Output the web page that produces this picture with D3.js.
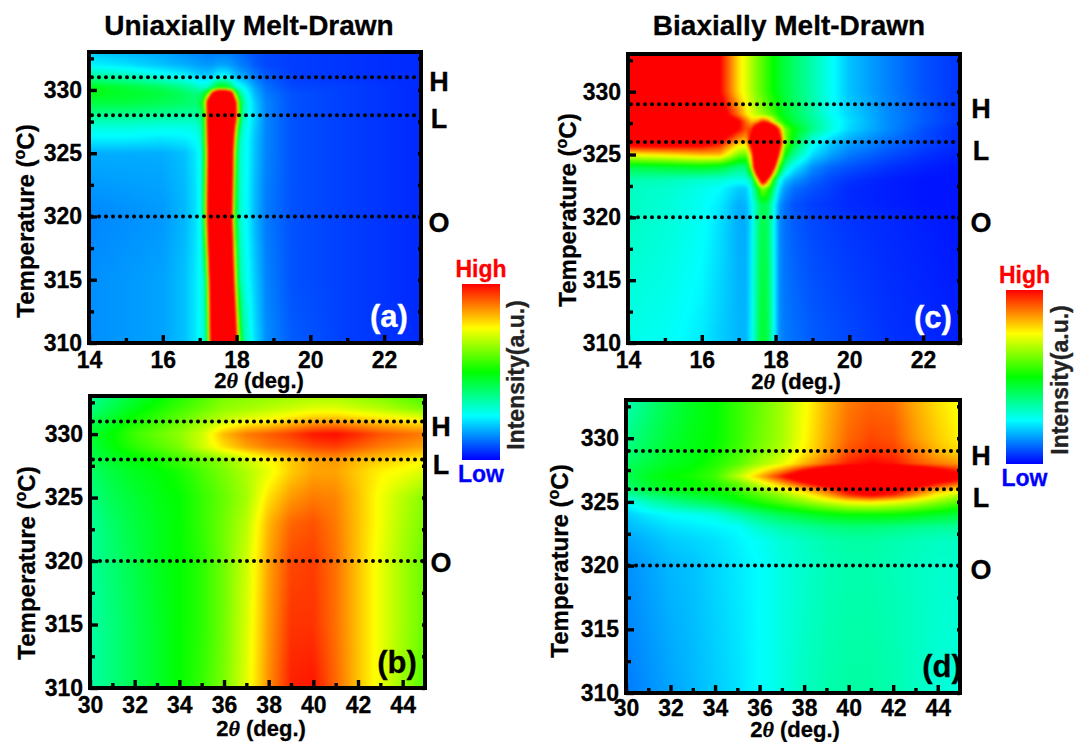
<!DOCTYPE html>
<html lang="en">

<head>
  <meta charset="UTF-8">
  <title>Uniaxially and biaxially melt-drawn intensity maps</title>
  <script src="https://d3js.org/d3.v7.min.js"></script>
  <style>
    body {
      margin: 0;
      background: #fff;
    }

    svg {
      display: block;
    }

    text {
      font-family: "Liberation Sans", Arial, sans-serif;
      font-weight: bold;
      fill: #000;
    }
  </style>
</head>

<body>
  <svg width="1074" height="742"></svg>

  <script>
    // intensity: 0 blue, 25 cyan, 50 green, 75 yellow, 100 red (over 100 = saturated)
    const thetaA = [14, 15, 16, 16.6, 16.9, 17.05, 17.15, 17.25, 17.35, 17.5, 17.7, 17.85, 17.95, 18.05, 18.15, 18.3, 18.5, 18.8, 19.5, 21, 23];
    const tempA = [310, 315, 320, 325, 326, 327, 328, 329, 329.7, 330.2, 331, 332, 333];
    const intensityA = [
      [14, 15, 16, 19, 23, 27, 30, 70, 130, 170, 170, 160, 125, 75, 40, 30, 22, 14, 9, 6, 4],
      [14, 15, 16, 19, 23, 27, 35, 85, 140, 170, 170, 140, 85, 42, 30, 26, 20, 13, 8, 6, 4],
      [13, 14, 15, 18, 22, 28, 65, 120, 160, 170, 170, 110, 55, 33, 28, 24, 18, 12, 8, 6, 4],
      [17, 17, 17, 19, 23, 28, 55, 110, 150, 170, 170, 130, 70, 35, 28, 25, 19, 13, 8, 6, 4],
      [23, 23, 22, 23, 25, 30, 60, 115, 160, 170, 170, 135, 80, 38, 28, 25, 19, 13, 8, 6, 4],
      [28, 28, 27, 27, 28, 33, 62, 120, 160, 170, 170, 145, 95, 50, 30, 26, 20, 13, 8, 6, 4],
      [36, 36, 35, 34, 34, 38, 62, 125, 165, 170, 170, 165, 120, 70, 36, 27, 21, 13, 8, 6, 4],
      [44, 44, 42, 40, 39, 45, 70, 130, 170, 170, 170, 165, 115, 65, 38, 28, 20, 13, 8, 6, 4],
      [48, 46, 44, 41, 38, 40, 48, 65, 110, 150, 150, 125, 70, 42, 32, 25, 18, 12, 8, 6, 4],
      [48, 45, 41, 36, 32, 30, 30, 32, 40, 50, 50, 42, 32, 28, 26, 22, 16, 11, 7, 6, 4],
      [36, 33, 28, 25, 22, 21, 21, 21, 22, 26, 26, 23, 20, 18, 17, 15, 12, 9, 6, 5, 4],
      [24, 22, 19, 17, 16, 15, 15, 15, 15, 16, 16, 15, 14, 13, 12, 11, 9, 7, 6, 5, 4],
      [20, 18, 16, 14, 13, 13, 12, 12, 12, 12, 12, 12, 11, 11, 10, 9, 8, 7, 6, 5, 4]
    ];

    const thetaB = [30, 31, 32, 33, 34, 35, 36, 37, 38, 39, 40, 41, 42, 43, 44, 45];
    const tempB = [310, 315, 320, 323, 325, 327, 328, 329, 330, 331, 332, 333];
    const intensityB = [
      [34, 38, 42, 46, 50, 55, 62, 72, 86, 97, 98, 90, 81, 73, 65, 58],
      [34, 38, 42, 46, 50, 54, 61, 71, 85, 95, 95, 89, 81, 73, 66, 60],
      [35, 39, 43, 47, 50, 54, 61, 70, 84, 93, 94, 89, 81, 73, 66, 60],
      [35, 40, 44, 47, 50, 55, 61, 68, 82, 90, 92, 88, 81, 74, 67, 62],
      [37, 42, 45, 48, 50, 55, 60, 66, 78, 85, 88, 87, 81, 74, 68, 63],
      [40, 44, 47, 49, 52, 57, 62, 67, 73, 80, 84, 84, 80, 76, 74, 71],
      [42, 46, 49, 52, 56, 60, 64, 70, 75, 80, 84, 85, 82, 80, 78, 76],
      [44, 49, 54, 58, 62, 70, 78, 84, 88, 90, 93, 94, 91, 88, 86, 84],
      [45, 50, 56, 60, 64, 70, 82, 88, 91, 94, 98, 99, 96, 92, 90, 88],
      [42, 47, 52, 56, 60, 65, 70, 74, 76, 80, 83, 84, 82, 80, 78, 76],
      [38, 43, 48, 52, 56, 60, 64, 66, 68, 70, 72, 72, 70, 68, 65, 62],
      [35, 40, 45, 49, 53, 57, 62, 63, 64, 65, 66, 66, 64, 62, 59, 56]
    ];

    const thetaC = [14, 15, 16, 16.5, 17, 17.2, 17.35, 17.5, 17.65, 17.8, 17.95, 18.1, 18.25, 18.5, 19, 19.5, 20, 21, 22, 23];
    const tempC = [310, 320, 321, 322.3, 323, 324, 325, 326, 327, 327.6, 328.2, 330, 333];
    const intensityC = [
      [27, 26, 23, 20, 18, 18, 24, 38, 46, 42, 26, 14, 12, 11, 9, 8, 7, 5, 4, 3],
      [31, 29, 26, 22, 17, 17, 23, 36, 43, 40, 26, 14, 11, 9, 7, 6, 5, 4, 3, 2],
      [31, 29, 26, 23, 17, 18, 24, 35, 43, 40, 27, 15, 11, 8, 6, 5, 4, 3, 2, 2],
      [31, 30, 27, 25, 20, 20, 28, 45, 65, 55, 38, 22, 15, 11, 8, 6, 4, 3, 2, 2],
      [33, 32, 30, 29, 27, 28, 34, 75, 125, 90, 50, 28, 20, 15, 10, 7, 5, 3, 2, 2],
      [43, 45, 47, 45, 38, 38, 70, 140, 170, 170, 105, 55, 34, 24, 14, 10, 8, 5, 3, 2],
      [75, 78, 82, 82, 62, 60, 85, 150, 170, 170, 150, 90, 50, 36, 22, 16, 12, 8, 5, 3],
      [112, 112, 108, 100, 82, 80, 110, 150, 170, 170, 170, 118, 65, 45, 27, 20, 16, 11, 7, 4],
      [125, 125, 122, 115, 100, 92, 95, 125, 165, 165, 130, 92, 62, 50, 37, 28, 21, 14, 8, 4],
      [130, 130, 128, 120, 102, 90, 82, 85, 98, 92, 72, 58, 50, 44, 36, 28, 22, 14, 9, 5],
      [130, 130, 125, 108, 88, 78, 72, 68, 64, 60, 56, 50, 46, 42, 34, 26, 21, 14, 9, 5],
      [130, 130, 120, 100, 78, 72, 67, 62, 58, 54, 50, 47, 44, 40, 33, 26, 19, 13, 8, 5],
      [130, 130, 120, 100, 78, 72, 67, 62, 58, 54, 50, 47, 44, 40, 33, 26, 19, 13, 8, 5]
    ];

    const thetaD = [30, 31, 32, 33, 34, 35, 36, 37, 38, 39, 40, 41, 42, 43, 44, 45];
    const tempD = [310, 320, 322, 323, 324, 325, 325.5, 326, 326.5, 327, 328, 329, 330, 333];
    const intensityD = [
      [12, 14, 16, 18, 20, 22, 25, 28, 31, 33, 34, 34, 33, 31, 29, 28],
      [14, 16, 18, 19, 21, 23, 25, 28, 30, 32, 33, 33, 32, 31, 30, 30],
      [16, 18, 20, 21, 22, 24, 26, 29, 31, 33, 34, 34, 33, 32, 31, 31],
      [18, 20, 22, 23, 24, 25, 30, 33, 35, 37, 38, 38, 37, 36, 35, 35],
      [20, 23, 25, 26, 28, 33, 38, 42, 45, 48, 50, 50, 50, 48, 46, 44],
      [25, 32, 36, 40, 43, 48, 53, 58, 64, 70, 75, 77, 74, 70, 64, 58],
      [33, 38, 42, 45, 47, 52, 58, 64, 72, 82, 94, 100, 95, 85, 74, 67],
      [38, 44, 48, 50, 52, 56, 64, 72, 82, 92, 105, 110, 105, 95, 85, 78],
      [40, 46, 48, 50, 54, 60, 72, 85, 98, 112, 125, 130, 125, 112, 100, 92],
      [42, 47, 50, 52, 56, 68, 82, 98, 115, 130, 145, 150, 145, 130, 118, 105],
      [40, 44, 47, 49, 53, 58, 66, 72, 82, 90, 97, 100, 98, 92, 88, 85],
      [38, 42, 46, 48, 51, 56, 62, 68, 76, 84, 92, 95, 94, 88, 82, 78],
      [36, 41, 45, 48, 50, 55, 61, 66, 75, 83, 90, 93, 92, 85, 80, 76],
      [32, 38, 43, 47, 50, 55, 60, 66, 74, 82, 88, 90, 89, 83, 78, 74]
    ];

    const tempTicks = [310, 315, 320, 325, 330];
    const tempMinorTicks = [312.5, 317.5, 322.5, 327.5, 332.5];
    const thetaTicksLow = [14, 16, 18, 20, 22];
    const thetaMinorLow = [15, 17, 19, 21, 23];
    const thetaTicksHigh = [30, 32, 34, 36, 38, 40, 42, 44];
    const thetaMinorHigh = [31, 33, 35, 37, 39, 41, 43];
    const phaseUni = [["H", 331], ["L", 328], ["O", 320]];
    const phaseBi = [["H", 329], ["L", 326], ["O", 320]];

    const colour = d3.scaleLinear()
      .domain([0, 25, 50, 75, 100])
      .range(["#0000ff", "#00ffff", "#00ff00", "#ffff00", "#ff0000"])
      .clamp(true);

    const svg = d3.select("svg");

    const panels = [
      {
        name: "(a)", nameFill: "#fff", nameAt: [389, 327], theta: thetaA, temp: tempA, values: intensityA,
        domain: [14, 23], ticks: thetaTicksLow, minor: thetaMinorLow, phases: phaseUni, tickPad: 9,
        xr: [89, 421], yr: [343, 52], phaseX: 439, phaseY: [81, 118, 222], labelX: 34, labelY: 221, xLabel: [259, 388]
      },
      {
        name: "(b)", nameFill: "#000", nameAt: [397, 673], theta: thetaB, temp: tempB, values: intensityB,
        domain: [30, 45], ticks: thetaTicksHigh, minor: thetaMinorHigh, phases: phaseUni, tickPad: 9,
        xr: [90, 425], yr: [688, 396], phaseX: 441, phaseY: [426, 464, 562], labelX: 35, labelY: 563, xLabel: [261, 736]
      },
      {
        name: "(c)", nameFill: "#fff", nameAt: [933, 328], theta: thetaC, temp: tempC, values: intensityC,
        domain: [14, 23], ticks: thetaTicksLow, minor: thetaMinorLow, phases: phaseBi, tickPad: 9,
        xr: [628, 960], yr: [343, 54], phaseX: 981, phaseY: [108, 150, 222], labelX: 576, labelY: 210, xLabel: [796, 389]
      },
      {
        name: "(d)", nameFill: "#000", nameAt: [942, 677], theta: thetaD, temp: tempD, values: intensityD,
        domain: [30, 45], ticks: thetaTicksHigh, minor: thetaMinorHigh, phases: phaseBi, tickPad: 7,
        xr: [626, 960], yr: [693, 400], phaseX: 981, phaseY: [455, 497, 569], labelX: 568, labelY: 561, xLabel: [795, 737]
      }
    ];

    panels.forEach(drawPanel);

    svg.append("text").attr("x", 249).attr("y", 35).attr("text-anchor", "middle")
      .style("font-size", "28px").text("Uniaxially Melt-Drawn");
    svg.append("text").attr("x", 789).attr("y", 35).attr("text-anchor", "middle")
      .style("font-size", "28px").text("Biaxially Melt-Drawn");

    drawLegend("legendOne", 462, 500, 284, 460, 517);
    drawLegend("legendTwo", 1006, 1043, 290, 464, 1061);

    // the reference text is heavier than plain bold
    svg.selectAll("text")
      .style("stroke", function () { return this.style.fill || "#000"; })
      .style("stroke-width", 0.3);

    // paints the grid into a canvas, a little blurred, and puts it behind the frame
    function heatmapImage(p, x, y) {
      const pad = 1;
      const w = Math.round(x.range()[1] - x.range()[0]) + pad * 2;
      const h = Math.round(y.range()[0] - y.range()[1]) + pad * 2;
      const col = d3.scaleLinear().domain(p.theta).range(d3.range(p.theta.length)).clamp(true);
      const row = d3.scaleLinear().domain(p.temp).range(d3.range(p.temp.length)).clamp(true);

      const raw = document.createElement("canvas");
      raw.width = w;
      raw.height = h;
      const ctx = raw.getContext("2d");
      const img = ctx.createImageData(w, h);
      for (let j = 0; j < h; j++) {
        const fy = row(y.invert(y.range()[1] - pad + j + 0.5));
        const j0 = Math.min(Math.floor(fy), p.temp.length - 2);
        const ty = fy - j0;
        for (let i = 0; i < w; i++) {
          const fx = col(x.invert(x.range()[0] - pad + i + 0.5));
          const i0 = Math.min(Math.floor(fx), p.theta.length - 2);
          const tx = fx - i0;
          const v = (1 - ty) * ((1 - tx) * p.values[j0][i0] + tx * p.values[j0][i0 + 1]) +
            ty * ((1 - tx) * p.values[j0 + 1][i0] + tx * p.values[j0 + 1][i0 + 1]);
          const c = d3.rgb(colour(v));
          const k = (j * w + i) * 4;
          img.data[k] = c.r;
          img.data[k + 1] = c.g;
          img.data[k + 2] = c.b;
          img.data[k + 3] = 255;
        }
      }
      ctx.putImageData(img, 0, 0);

      const soft = document.createElement("canvas");
      soft.width = w;
      soft.height = h;
      const sctx = soft.getContext("2d");
      sctx.drawImage(raw, 0, 0);
      sctx.filter = "blur(1px)";
      sctx.drawImage(raw, 0, 0);

      svg.append("image")
        .attr("x", x.range()[0] - pad)
        .attr("y", y.range()[1] - pad)
        .attr("width", w)
        .attr("height", h)
        .attr("href", soft.toDataURL());
    }

    function drawPanel(p) {
      const x = d3.scaleLinear().domain(p.domain).range(p.xr);
      const y = d3.scaleLinear().domain([310, 333]).range(p.yr);

      heatmapImage(p, x, y);

      // dotted phase lines
      svg.append("g").selectAll("line")
        .data(p.phases)
        .join("line")
        .attr("x1", p.xr[0] + 3)
        .attr("x2", p.xr[1] - 1)
        .attr("y1", d => y(d[1]))
        .attr("y2", d => y(d[1]))
        .attr("stroke", "#000")
        .attr("stroke-width", 4)
        .attr("stroke-linecap", "round")
        .attr("stroke-dasharray", "0 7");

      svg.append("g").selectAll("text")
        .data(p.phases)
        .join("text")
        .attr("x", p.phaseX)
        .attr("y", (d, i) => p.phaseY[i] + 10)
        .attr("text-anchor", "middle")
        .style("font-size", "27px")
        .text(d => d[0]);

      // ticks point inwards
      svg.append("g").attr("transform", `translate(0,${p.yr[0]})`)
        .call(d3.axisBottom(x).tickValues(p.ticks).tickSizeInner(-8).tickSizeOuter(0).tickPadding(p.tickPad).tickFormat(d3.format("d")));
      svg.append("g").attr("transform", `translate(0,${p.yr[0]})`)
        .call(d3.axisBottom(x).tickValues(p.minor).tickSizeInner(-5).tickSizeOuter(0).tickFormat(""));
      svg.append("g").attr("transform", `translate(${p.xr[0]},0)`)
        .call(d3.axisLeft(y).tickValues(tempTicks).tickSizeInner(-8).tickSizeOuter(0).tickPadding(7).tickFormat(d3.format("d")));
      svg.append("g").attr("transform", `translate(${p.xr[0]},0)`)
        .call(d3.axisLeft(y).tickValues(tempMinorTicks).tickSizeInner(-5).tickSizeOuter(0).tickFormat(""));
      svg.append("g").attr("transform", `translate(${p.xr[1]},0)`)
        .call(d3.axisRight(y).tickValues(tempTicks.concat(tempMinorTicks)).tickSizeInner(-3).tickSizeOuter(0).tickFormat(""));

      svg.selectAll(".domain").remove();
      svg.selectAll(".tick line").attr("stroke", "#000").attr("stroke-width", 3.4);
      svg.selectAll(".tick text").style("font-size", "23px");

      svg.append("rect")
        .attr("x", p.xr[0])
        .attr("y", p.yr[1])
        .attr("width", p.xr[1] - p.xr[0])
        .attr("height", p.yr[0] - p.yr[1])
        .attr("fill", "none")
        .attr("stroke", "#000")
        .attr("stroke-width", 4);

      svg.append("text")
        .attr("x", p.nameAt[0])
        .attr("y", p.nameAt[1])
        .attr("text-anchor", "middle")
        .style("font-size", "31px")
        .style("fill", p.nameFill)
        .text(p.name);

      const xl = svg.append("text")
        .attr("x", p.xLabel[0])
        .attr("y", p.xLabel[1])
        .attr("text-anchor", "middle")
        .style("font-size", "22px");
      xl.append("tspan").text("2");
      xl.append("tspan")
        .style("font-family", "'Liberation Serif', serif")
        .style("font-style", "italic")
        .text("θ");
      xl.append("tspan").text(" (deg.)");

      const yl = svg.append("text")
        .attr("transform", `translate(${p.labelX},${p.labelY}) rotate(-90)`)
        .attr("text-anchor", "middle")
        .style("font-size", "24px");
      yl.append("tspan").text("Temperature (");
      yl.append("tspan").attr("dy", -9).style("font-size", "16px").text("o");
      yl.append("tspan").attr("dy", 9).text("C)");
    }

    function drawLegend(id, x0, x1, y0, y1, labelX) {
      const grad = svg.append("defs").append("linearGradient")
        .attr("id", id)
        .attr("x1", 0).attr("x2", 0).attr("y1", 1).attr("y2", 0);
      grad.selectAll("stop")
        .data(colour.domain())
        .join("stop")
        .attr("offset", d => d + "%")
        .attr("stop-color", d => colour(d));

      svg.append("rect")
        .attr("x", x0).attr("y", y0)
        .attr("width", x1 - x0).attr("height", y1 - y0)
        .attr("fill", `url(#${id})`);

      svg.append("text").attr("x", (x0 + x1) / 2).attr("y", y0 - 7)
        .attr("text-anchor", "middle").style("font-size", "23px").style("fill", "#ff0000").text("High");
      svg.append("text").attr("x", (x0 + x1) / 2).attr("y", y1 + 22)
        .attr("text-anchor", "middle").style("font-size", "23px").style("fill", "#0000ff").text("Low");
      svg.append("text")
        .attr("transform", `translate(${labelX + 7},${(y0 + y1) / 2 + 3}) rotate(-90)`)
        .attr("text-anchor", "middle")
        .style("font-size", "23px")
        .style("fill", "#222")
        .text("Intensity(a.u.)");
    }
  </script>
</body>

</html>
